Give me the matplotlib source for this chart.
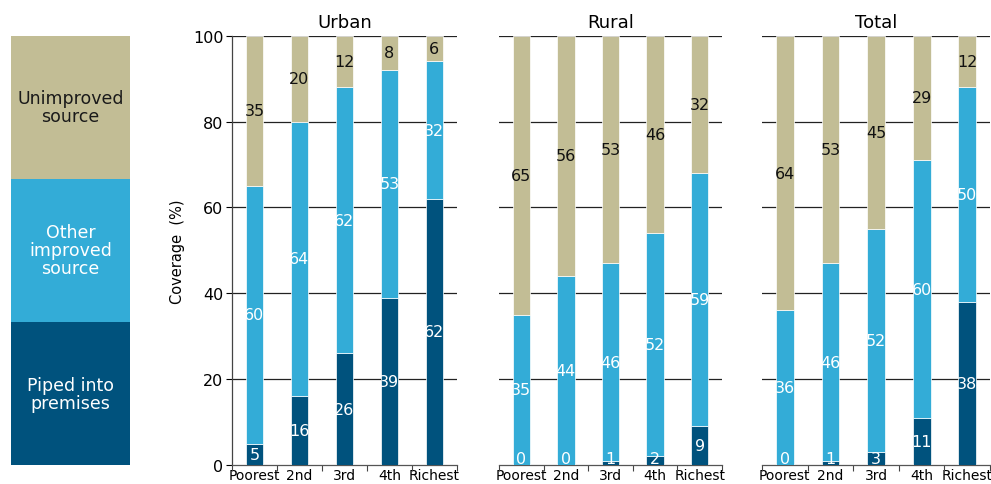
import numpy as np
import matplotlib.pyplot as plt

plt.rcParams['font.family'] = ['DejaVu Sans']

# quintiles
groups = ['Poorest', '2nd', '3rd', '4th', 'Richest']

urban_piped = [5, 16, 26, 39, 62]
urban_other = [60, 64, 62, 53, 32]
urban_unimproved = [35, 20, 12, 8, 6]

rural_piped = [0, 0, 1, 2, 9]
rural_other = [35, 44, 46, 52, 59]
rural_unimproved = [65, 56, 53, 46, 32]

total_piped = [0, 1, 3, 11, 38]
total_other = [36, 46, 52, 60, 50]
total_unimproved = [64, 53, 45, 29, 12]

legend_labels = ['Piped into\npremises', 'Other\nimproved\nsource', 'Unimproved\nsource']

c_piped = '#00527d'
c_other = '#33acd7'
c_unimp = '#c2bd95'

fig = plt.figure(figsize=(9.91, 4.85), dpi=100)

bottom = 0.039
height = 0.8855

# colour key on the left, drawn as one stacked column
lax = fig.add_axes([0.011, bottom, 0.120, height])
key_colors = [c_piped, c_other, c_unimp]
key_text = ['white', 'white', '#1a1a1a']
for i, lab in enumerate(legend_labels):
    lax.bar(0, 1, bottom=i, width=1, color=key_colors[i], edgecolor='none')
    lax.text(0, i + 0.5, lab, ha='center', va='center', fontsize=12.5,
             color=key_text[i], linespacing=1.0)
lax.set_xlim(-0.5, 0.5)
lax.set_ylim(0, 3)
lax.axis('off')

panels = [
    ('Urban', urban_piped, urban_other, urban_unimproved, 0.234, 0.227),
    ('Rural', rural_piped, rural_other, rural_unimproved, 0.5035, 0.225),
    ('Total', total_piped, total_other, total_unimproved, 0.769, 0.230),
]

x = np.arange(1, len(groups) + 1)
w = 0.39
fs = 11.5

for k, (name, piped, other, unimp, left, width) in enumerate(panels):
    ax = fig.add_axes([left, bottom, width, height])
    piped = np.array(piped)
    other = np.array(other)
    unimp = np.array(unimp)

    ax.bar(x, piped, w, color=c_piped, edgecolor='white', linewidth=0.5, zorder=3)
    ax.bar(x, other, w, bottom=piped, color=c_other, edgecolor='white', linewidth=0.5, zorder=3)
    ax.bar(x, unimp, w, bottom=piped + other, color=c_unimp, edgecolor='white', linewidth=0.5, zorder=3)

    for i in range(len(x)):
        ax.text(x[i], max(piped[i] / 2, 1.5), str(piped[i]), ha='center', va='center',
                color='white', fontsize=fs, zorder=4, clip_on=True)
        ax.text(x[i], piped[i] + other[i] / 2, str(other[i]), ha='center', va='center',
                color='white', fontsize=fs, zorder=4)
        ax.text(x[i], piped[i] + other[i] + unimp[i] / 2, str(unimp[i]), ha='center',
                va='center', color='#111111', fontsize=fs, zorder=4)

    ax.set_xlim(0.5, 5.5)
    ax.set_ylim(0, 100)
    for yv in [20, 40, 60, 80, 100]:
        ax.axhline(yv, color='#222222', linewidth=0.9, zorder=1)

    ax.set_xticks(x)
    ax.set_xticklabels(groups, fontsize=10)
    ax.set_xticks(np.arange(0.5, 6.0, 1.0), minor=True)
    ax.tick_params(axis='x', which='major', length=0, pad=2)
    ax.tick_params(axis='x', which='minor', length=4, width=0.8, color='#444444')

    for s in ['top', 'right']:
        ax.spines[s].set_visible(False)
    ax.spines['bottom'].set_color('#555555')
    ax.spines['bottom'].set_linewidth(0.9)

    if k == 0:
        ax.set_yticks([0, 20, 40, 60, 80, 100])
        ax.tick_params(axis='y', labelsize=11.5, length=4, width=0.8, pad=2)
        ax.spines['left'].set_color('#444444')
        ax.spines['left'].set_linewidth(0.9)
        ax.set_ylabel('Coverage  (%)', fontsize=10.5, labelpad=6)
    else:
        ax.spines['left'].set_visible(False)
        ax.set_yticks([])

    ax.set_title(name, fontsize=13, pad=6)

plt.savefig('out.png', dpi=100)
